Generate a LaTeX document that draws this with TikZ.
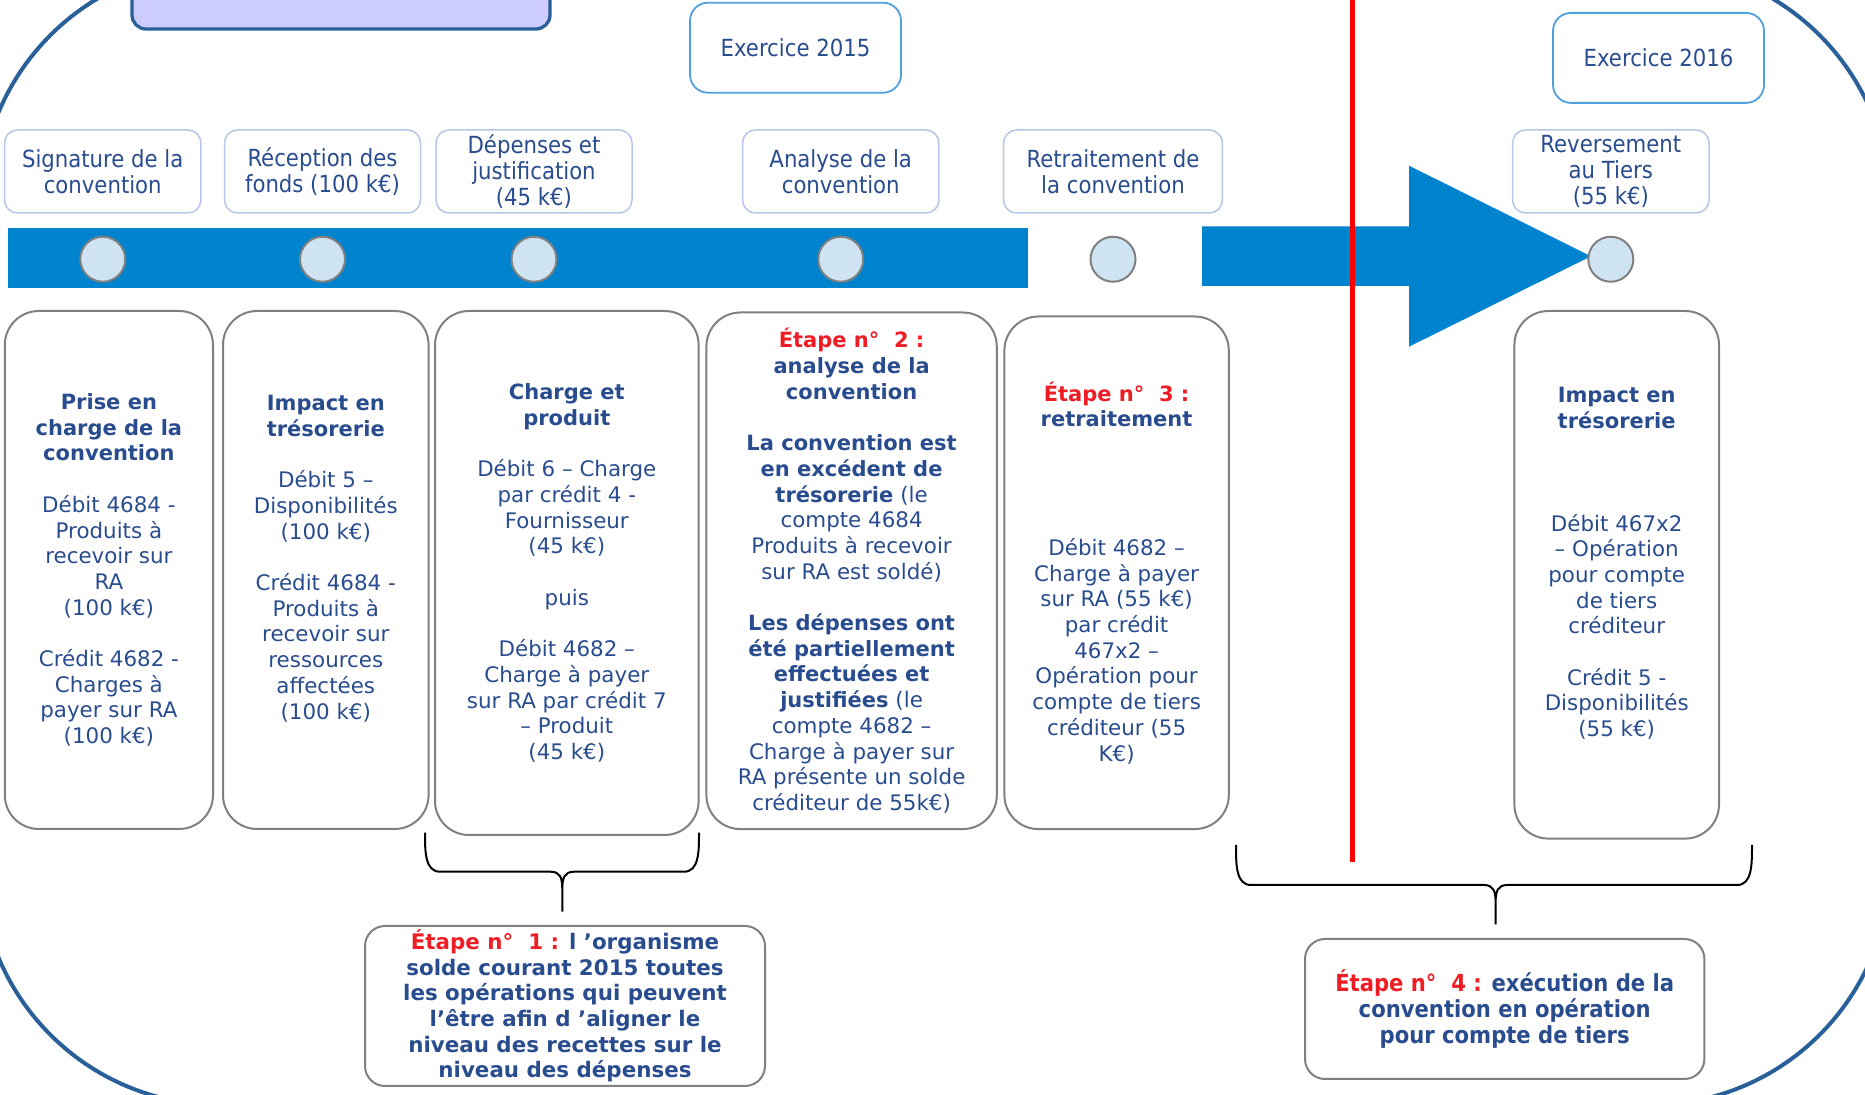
\documentclass[tikz,border=0pt]{standalone}
\usepackage{fontspec}
\setmainfont{DejaVu Sans}
\newfontfamily\tahoma{DejaVu Sans Condensed}[BoldFont={DejaVu Sans Condensed Bold}]
\usetikzlibrary{positioning}

\definecolor{txtblue}{RGB}{41,76,142}
\definecolor{etred}{RGB}{238,29,36}
\definecolor{barblue}{RGB}{0,131,206}
\definecolor{dotfill}{RGB}{207,228,243}
\definecolor{lblline}{RGB}{180,199,231}
\definecolor{exoline}{RGB}{80,160,222}
\definecolor{frameblue}{RGB}{41,96,153}
\definecolor{titlefill}{RGB}{204,204,255}

\newcommand\hd[1]{{\fontsize{10.5pt}{12.85pt}\selectfont\bfseries #1}}
\newcommand\etape[1]{\textcolor{etred}{#1}}

\begin{document}
\begin{tikzpicture}[x=0.5pt, y=-0.5pt,
  frame/.style={draw=frameblue, line width=2pt, rounded corners=120pt},
  titlebox/.style={draw=frameblue, fill=titlefill, line width=1.65pt, rounded corners=7pt},
  lbl/.style={draw=lblline, line width=0.75pt, rounded corners=6.5pt, text=txtblue, align=center,
              inner sep=0pt, minimum height=41.5pt, font=\tahoma\fontsize{11.8pt}{13pt}\selectfont},
  exo/.style={draw=exoline, line width=0.9pt, rounded corners=9pt, text=txtblue,
              minimum width=105.5pt, minimum height=45pt, font=\tahoma\fontsize{11.8pt}{13pt}\selectfont},
  dot/.style={circle, draw=gray, line width=1pt, fill=dotfill, minimum size=22.5pt, inner sep=0pt},
  bigbox/.style={draw=gray, line width=1pt, rounded corners=17pt, text=txtblue, align=center,
                 inner sep=0pt, font=\fontsize{10.7pt}{12.85pt}\selectfont},
  stepbox/.style={draw=gray, line width=1pt, rounded corners=10pt, text=txtblue, align=center, inner sep=0pt},
  brace/.style={draw=black, line width=1pt},
  redline/.style={draw=red, line width=2.5pt}]

\useasboundingbox (0,0) rectangle (1865,1095);
\clip (0,0) rectangle (1865,1095);

\draw[frame] (-20,-35) rectangle (1890,1105);
\node[titlebox, minimum width=209pt, minimum height=44pt] (title) at (341,-15) {};

\node[exo] (ex15) at (795.5,47.7) {Exercice 2015};
\node[exo] (ex16) at (1658.5,57.9) {Exercice 2016};

\node[lbl, minimum width=98.2pt] (l1) at (102.75,171.5) {Signature de la\\convention};
\node[lbl, minimum width=98pt] (l2) at (322.5,171.5) {Réception des\\fonds (100 k€)};
\node[lbl, minimum width=98pt] (l3) at (534,171.5) {Dépenses et\\justification\\(45 k€)};
\node[lbl, minimum width=98.2pt] (l4) at (840.75,171.5) {Analyse de la\\convention};
\node[lbl, minimum width=109.4pt] (l5) at (1113,171.5) {Retraitement de\\la convention};
\node[lbl, minimum width=98.2pt] (l6) at (1610.8,171.5) {Reversement\\au Tiers\\(55 k€)};

\fill[barblue] (8,228) rectangle (1028,288.5);
\fill[barblue] (1202,226.5) -- (1409,226.5) -- (1409,165.7) -- (1591,256.3)
  -- (1409,346.7) -- (1409,286) -- (1202,286) -- cycle;
\draw[redline] (1352,0) -- (1352,861.7);

\foreach \i in {1,...,6}
  \node[dot, below=11pt of l\i] (d\i) {};

\node[bigbox, minimum width=104.1pt, minimum height=259pt] (b1) at (108.9,570)
  {\hd{Prise en}\\\hd{charge de la}\\\hd{convention}\\[\baselineskip]
   Débit 4684 -\\Produits à\\recevoir sur\\RA\\(100 k€)\\[\baselineskip]
   Crédit 4682 -\\Charges à\\payer sur RA\\(100 k€)};
\node[bigbox, minimum width=102.8pt, minimum height=259pt] (b2) at (325.8,570)
  {\hd{Impact en}\\\hd{trésorerie}\\[\baselineskip]
   Débit 5 –\\Disponibilités\\(100 k€)\\[\baselineskip]
   Crédit 4684 -\\Produits à\\recevoir sur\\ressources\\affectées\\(100 k€)\\\mbox{}};
\node[bigbox, minimum width=131.8pt, minimum height=262pt] (b3) at (566.8,573)
  {\hd{Charge et}\\\hd{produit}\\[\baselineskip]
   Débit 6 – Charge\\par crédit 4 -\\Fournisseur\\(45 k€)\\[\baselineskip]
   puis\\[\baselineskip]
   Débit 4682 –\\Charge à payer\\sur RA par crédit 7\\– Produit\\(45 k€)};
\node[bigbox, minimum width=145.2pt, minimum height=258.3pt] (b4) at (851.6,570.8)
  {\hd{\etape{Étape n°~ 2 :}}\\\hd{analyse de la}\\\hd{convention}\\[\baselineskip]
   \hd{La convention est}\\\hd{en excédent de}\\\hd{trésorerie} (le\\compte 4684\\
   Produits à recevoir\\sur RA est soldé)\\[\baselineskip]
   \hd{Les dépenses ont}\\\hd{été partiellement}\\\hd{effectuées et}\\\hd{justifiées} (le\\
   compte 4682 –\\Charge à payer sur\\RA présente un solde\\créditeur de 55k€)};
\node[bigbox, minimum width=112.2pt, minimum height=256.3pt] (b5) at (1116.6,572.8)
  {\hd{\etape{Étape n°~ 3 :}}\\\hd{retraitement}\\[4\baselineskip]
   Débit 4682 –\\Charge à payer\\sur RA (55 k€)\\par crédit\\467x2 –\\
   Opération pour\\compte de tiers\\créditeur (55\\K€)};
\node[bigbox, minimum width=102.3pt, minimum height=263.8pt] (b6) at (1616.7,574.8)
  {\hd{Impact en}\\\hd{trésorerie}\\[3\baselineskip]
   Débit 467x2\\– Opération\\pour compte\\de tiers\\créditeur\\[\baselineskip]
   Crédit 5 -\\Disponibilités\\(55 k€)\\\mbox{}};

\foreach \L/\R/\T/\Y/\M/\B in {425/699/832.7/871.7/562.3/911.7, 1236/1752/845/885/1495.6/924.3}
  \draw[brace] (\L,\T) .. controls (\L,\Y-20) and (\L,\Y) .. (\L+15,\Y) -- (\M-12,\Y)
    .. controls (\M-2,\Y) and (\M,\Y+6) .. (\M,\Y+18) -- (\M,\B)
    (\M,\Y+18) .. controls (\M,\Y+6) and (\M+2,\Y) .. (\M+12,\Y) -- (\R-15,\Y)
    .. controls (\R,\Y) and (\R,\Y-20) .. (\R,\T);

\node[stepbox, minimum width=200pt, minimum height=80pt,
      font=\bfseries\fontsize{10.7pt}{12.85pt}\selectfont] (s1) at (565,1006)
  {\etape{Étape n°~ 1 :} l ’organisme\\solde courant 2015 toutes\\les opérations qui peuvent\\
   l’être afin d ’aligner le\\niveau des recettes sur le\\niveau des dépenses};
\node[stepbox, minimum width=199.7pt, minimum height=70pt,
      font=\tahoma\bfseries\fontsize{11.75pt}{12.8pt}\selectfont] (s4) at (1504.7,1009)
  {\etape{Étape n°~ 4 :} exécution de la\\convention en opération\\pour compte de tiers};
\end{tikzpicture}
\end{document}
